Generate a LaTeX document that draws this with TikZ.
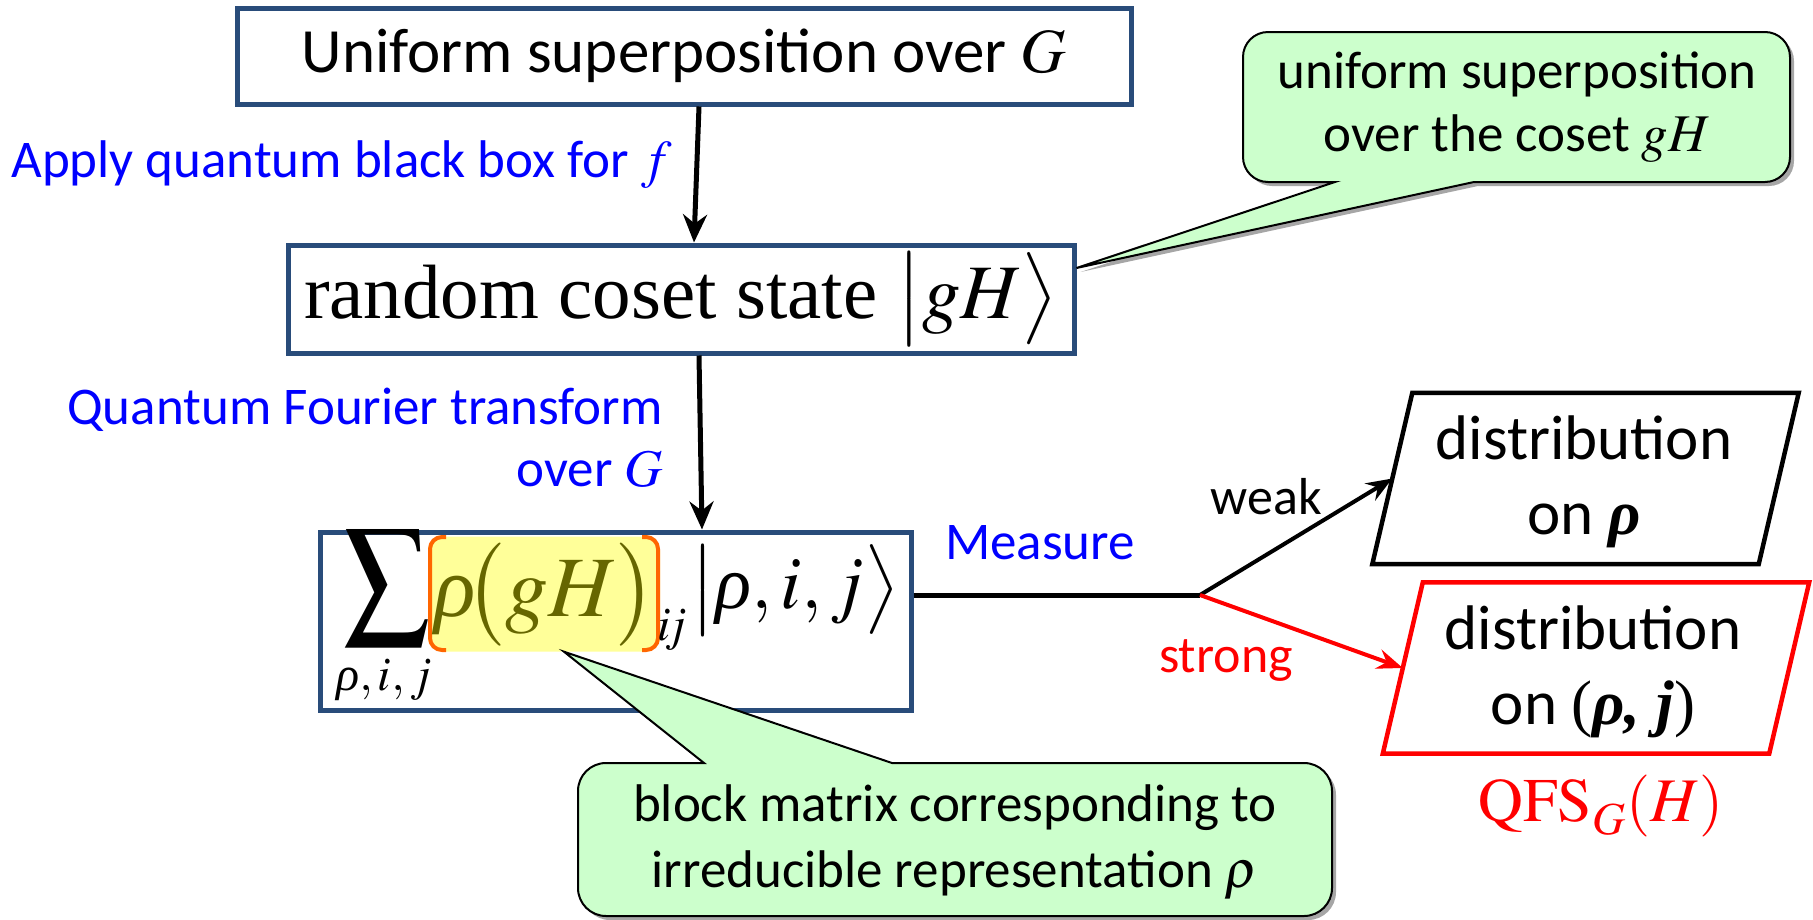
\documentclass[tikz,border=0pt]{standalone}
\usepackage{mathptmx}
\usepackage{amsmath}
\usepackage{graphicx}
\usepackage[no-math]{fontspec}
\setmainfont{Carlito}
\newfontfamily\tnr{Liberation Serif}
\newcommand{\myrho}{\mathord{\text{\tnr\itshape ρ}}}
\usetikzlibrary{arrows.meta,shadows,calc}
\definecolor{boxblue}{RGB}{41,76,122}
\definecolor{calloutgreen}{RGB}{204,255,204}
\definecolor{hlyellow}{RGB}{255,255,153}
\definecolor{myolive}{RGB}{102,102,0}
\definecolor{brorange}{RGB}{255,102,0}
\tikzset{
  bluebox/.style={draw=boxblue, line width=5pt, fill=white, inner sep=0pt},
  flowarrow/.style={-{Stealth[length=28pt,width=24pt]}, line width=5pt},
  measarrow/.style={-{Stealth[length=26pt,width=20pt,inset=9pt]}, line width=4pt},
  bluelabel/.style={text=blue, inner sep=0pt, font=\fontsize{53}{62}\selectfont},
  calloutshape/.style={draw=black, line width=2pt, fill=calloutgreen,
    drop shadow={shadow xshift=4pt, shadow yshift=-4pt, fill=black, opacity=0.35}},
  callouttext/.style={inner sep=0pt, align=center},
  paratext/.style={inner sep=0pt, align=center, font=\fontsize{63}{75}\selectfont},
  parabox/.style={minimum width=386pt, minimum height=171pt, inner sep=0pt},
  edgelabel/.style={inner sep=0pt, font=\fontsize{52}{60}\selectfont}
}
\begin{document}
\begin{tikzpicture}[x=1pt,y=-1pt]
\useasboundingbox (0,0) rectangle (1813,919);

% boxes
\node[bluebox, minimum width=894pt, minimum height=96pt] (box1) at (684,56)
  {\fontsize{63}{70}\selectfont Uniform superposition over $G$};
\node[bluebox, minimum width=786pt, minimum height=108pt] (box2) at (681,299)
  {\tnr\fontsize{77}{80}\selectfont random coset state $\left|\vphantom{\bigl(}gH\right\rangle$};
\node[bluebox, minimum width=591pt, minimum height=178pt] (box3) at (615.5,621) {};

% box3 content
\node[fill=hlyellow, rounded corners=14pt, minimum width=232pt, minimum height=115pt, inner sep=0pt] (hl) at (544,594) {};
\draw[brorange, line width=4pt, rounded corners=12pt] (446,537) -- (430,537) -- (430,650) -- (446,650);
\draw[brorange, line width=4pt, rounded corners=12pt] (642,537) -- (658,537) -- (658,650) -- (642,650);
\node[inner sep=0pt] (sum) at (387,588) {\resizebox{87pt}{92pt}{$\textstyle\sum$}};
\node[inner sep=0pt] (sumsub) at (384,680) {\fontsize{48}{50}\selectfont $\myrho,i,j$};
\node[inner sep=0pt, text=myolive] (rho) at (545,595) {\fontsize{86}{92}\selectfont $\myrho\!\bigl(gH\bigr)$};
\node[inner sep=0pt] (ij) at (672,630) {\fontsize{48}{50}\selectfont $i\!j$};
\node[inner sep=0pt] (ket) at (795,590) {\fontsize{75}{80}\selectfont $\left|\vphantom{\bigl(}\myrho,i,j\right\rangle$};

% vertical arrows
\draw[flowarrow] ([xshift=15pt]box1.south) -- ([xshift=13pt]box2.north);
\draw[flowarrow] ([xshift=18pt]box2.south) -- ([xshift=86.5pt]box3.north);

% blue labels
\node[bluelabel] (lab1) at (341.5,165) {Apply quantum black box for $f$};
\node[bluelabel, align=right, anchor=east] (lab2) at (663,438) {Quantum Fourier transform\\over $G$};
\node[bluelabel] (meas) at (1040,543) {Measure};

% parallelograms
\node[parabox] (p1) at (1585.5,478.5) {};
\draw[black, line width=4.5pt] ([xshift=20pt]p1.north west) -- ([xshift=20pt]p1.north east)
  -- ([xshift=-20pt]p1.south east) -- ([xshift=-20pt]p1.south west) -- cycle;
\node[paratext] (p1t) at (1584,482) {distribution\\on {\tnr\bfseries\itshape ρ}};
\node[parabox] (p2) at (1596,668) {};
\draw[red, line width=4.5pt] ([xshift=20pt]p2.north west) -- ([xshift=20pt]p2.north east)
  -- ([xshift=-20pt]p2.south east) -- ([xshift=-20pt]p2.south west) -- cycle;
\node[paratext] (p2t) at (1593,672) {distribution\\on {\tnr(\bfseries\itshape ρ\/, j\/\mdseries\upshape)}};
\node[inner sep=0pt, text=red] (qfs) at (1601,806) {\fontsize{62}{66}\selectfont $\mathrm{QFS}_G(H)$};

% measure branching
\coordinate (junc) at (1200,595);
\draw[line width=5pt] ([yshift=26pt]box3.east) -- (junc);
\draw[measarrow] (junc) -- (p1.west);
\draw[measarrow, red] (junc) -- (p2.west);
\node[edgelabel] (weak) at (1266,497) {weak};
\node[edgelabel, text=red] (strong) at (1226,661) {strong};

% callouts
\coordinate (tip1) at ([yshift=31pt]box2.east);
\path[calloutshape] (1268,32) -- (1765,32) .. controls (1778.8,32) and (1790,43.2) .. (1790,57)
  -- (1790,157) .. controls (1790,170.8) and (1778.8,182) .. (1765,182)
  -- (1474,182) -- (tip1) -- (1335,182) -- (1268,182)
  .. controls (1254.2,182) and (1243,170.8) .. (1243,157)
  -- (1243,57) .. controls (1243,43.2) and (1254.2,32) .. (1268,32) -- cycle;
\node[callouttext, font=\fontsize{53}{63}\selectfont] (c1) at (1517,107)
  {uniform superposition\\over the coset $gH$};

\coordinate (tip2) at ([xshift=20pt]hl.south);
\path[calloutshape] (606,763) -- (704,763) -- (tip2) -- (892,763) -- (1304,763)
  .. controls (1319.5,763) and (1332,775.5) .. (1332,791)
  -- (1332,888) .. controls (1332,903.5) and (1319.5,916) .. (1304,916)
  -- (606,916) .. controls (590.5,916) and (578,903.5) .. (578,888)
  -- (578,791) .. controls (578,775.5) and (590.5,763) .. (606,763) -- cycle;
\node[callouttext, font=\fontsize{53}{66}\selectfont] (c2) at (955,842)
  {block matrix corresponding to\\irreducible representation $\rho$};
\end{tikzpicture}
\end{document}
